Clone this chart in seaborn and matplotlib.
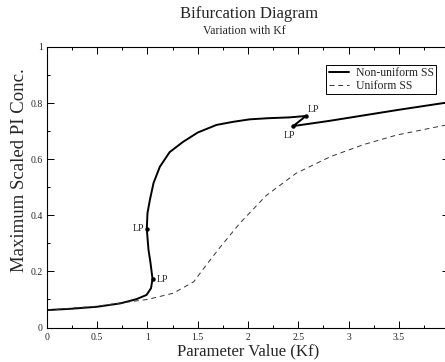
import matplotlib
matplotlib.use("Agg")
import matplotlib.pyplot as plt
import seaborn as sns
import pandas as pd
from matplotlib.ticker import MultipleLocator, FixedLocator, FixedFormatter
from matplotlib.lines import Line2D

# ---------------- data ----------------
# Non-uniform steady state branch (in continuation order, non-monotonic in Kf)
nonuni_kf = [0.00, 0.25, 0.50, 0.73, 0.89, 0.99, 1.035, 1.050, 1.030, 1.010,
             0.993, 1.000, 1.024, 1.060, 1.123, 1.220, 1.355, 1.500, 1.686,
             1.850, 2.017, 2.200, 2.415, 2.577, 2.450, 2.800, 3.150, 3.500, 4.000]
nonuni_pi = [0.062, 0.067, 0.074, 0.086, 0.101, 0.116, 0.140, 0.173, 0.230, 0.277,
             0.351, 0.408, 0.455, 0.515, 0.573, 0.625, 0.662, 0.695, 0.722,
             0.733, 0.742, 0.746, 0.749, 0.754, 0.718, 0.736, 0.756, 0.776, 0.803]

# Uniform steady state branch
uni_kf = [0.00, 0.50, 0.83, 1.00, 1.255, 1.46, 1.59, 1.72, 1.917, 2.18,
          2.48, 2.82, 3.15, 3.48, 4.00]
uni_pi = [0.062, 0.076, 0.092, 0.100, 0.122, 0.163, 0.225, 0.285, 0.371, 0.470,
          0.550, 0.609, 0.652, 0.686, 0.724]

# Limit points
lp_kf = [1.050, 0.993, 2.577, 2.450]
lp_pi = [0.173, 0.351, 0.754, 0.718]
lp_text = ["LP", "LP", "LP", "LP"]

series_names = ["Non-uniform SS", "Uniform SS"]
title_text = "Bifurcation Diagram"
subtitle_text = "Variation with Kf"
x_label = "Parameter Value (Kf)"
y_label = "Maximum Scaled PI Conc."
x_ticks = [0, 0.5, 1, 1.5, 2, 2.5, 3, 3.5, 4]
x_tick_labels = ["0", "0.5", "1", "1.5", "2", "2.5", "3", "3.5", ""]
y_ticks = [0, 0.2, 0.4, 0.6, 0.8, 1.0]
y_tick_labels = ["0", "0.2", "0.4", "0.6", "0.8", "1"]

# ---------------- style ----------------
sns.set_theme(style="ticks")
plt.rcParams["font.family"] = ["Liberation Serif", "DejaVu Serif"]
plt.rcParams["axes.edgecolor"] = "black"
plt.rcParams["axes.linewidth"] = 0.8

df_nu = pd.DataFrame({"kf": nonuni_kf, "pi": nonuni_pi})
df_u = pd.DataFrame({"kf": uni_kf, "pi": uni_pi})

fig = plt.figure(figsize=(4.45, 3.62), dpi=100)
ax = fig.add_axes([0.1056, 0.0953, 0.9034, 0.775])

sns.lineplot(data=df_nu, x="kf", y="pi", sort=False, estimator=None,
             color="black", linewidth=1.4, ax=ax)
sns.lineplot(data=df_u, x="kf", y="pi", sort=False, estimator=None,
             color="#333333", linewidth=0.7, ax=ax)
ax.lines[-1].set_dashes((5, 4))

ax.plot(lp_kf, lp_pi, "o", color="black", markersize=2.2, zorder=5)

fs_lp = 7
ax.text(lp_kf[0] + 0.04, lp_pi[0] - 0.002, lp_text[0], fontsize=fs_lp, ha="left", va="center")
ax.text(lp_kf[1] - 0.03, lp_pi[1] + 0.002, lp_text[1], fontsize=fs_lp, ha="right", va="center")
ax.text(lp_kf[2] + 0.02, lp_pi[2] + 0.008, lp_text[2], fontsize=fs_lp, ha="left", va="bottom")
ax.text(lp_kf[3] - 0.04, lp_pi[3] - 0.016, lp_text[3], fontsize=fs_lp, ha="center", va="top")

ax.set_xlim(0, 4)
ax.set_ylim(0, 1)
ax.xaxis.set_major_locator(FixedLocator(x_ticks))
ax.xaxis.set_major_formatter(FixedFormatter(x_tick_labels))
ax.yaxis.set_major_locator(FixedLocator(y_ticks))
ax.yaxis.set_major_formatter(FixedFormatter(y_tick_labels))
ax.xaxis.set_minor_locator(MultipleLocator(0.25))
ax.yaxis.set_minor_locator(MultipleLocator(0.1))
ax.tick_params(which="both", direction="in", top=True, right=True,
               color="black", width=0.7)
ax.tick_params(which="major", length=5, labelsize=7)
ax.tick_params(axis="x", which="major", pad=4)
ax.tick_params(axis="y", which="major", pad=3)
ax.tick_params(which="minor", length=2.5)
for s in ax.spines.values():
    s.set_visible(True)
    s.set_color("black")
    s.set_linewidth(0.8)

ax.set_xlabel(x_label, fontsize=12, labelpad=1)
ax.set_ylabel(y_label, fontsize=13.5)
ax.yaxis.set_label_coords(-0.048, 0.56)

handles = [Line2D([], [], color="black", linewidth=1.4),
           Line2D([], [], color="#333333", linewidth=0.7, dashes=(5, 4))]
leg = ax.legend(handles, series_names, loc="upper right",
                bbox_to_anchor=(0.968, 0.936), fontsize=8.5, frameon=True,
                fancybox=False, framealpha=1, edgecolor="black",
                borderpad=0.2, handlelength=1.7, handletextpad=0.6,
                labelspacing=0.05, borderaxespad=0)
leg.get_frame().set_linewidth(0.7)

fig.text(0.559, 0.961, title_text, fontsize=12, ha="center", va="center")
fig.text(0.549, 0.914, subtitle_text, fontsize=8.5, ha="center", va="center")

fig.savefig("out.png", dpi=100)
